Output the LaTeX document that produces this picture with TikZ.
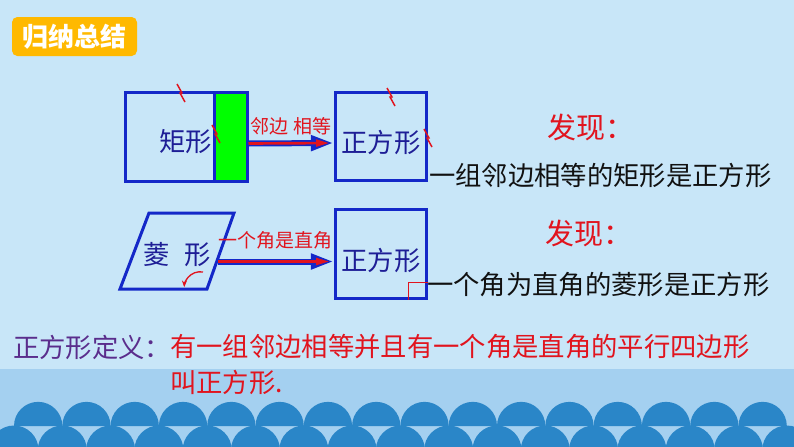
\documentclass[tikz,border=0pt]{standalone}
\usepackage{xcolor}
\usepackage{fontspec}
\setmainfont{Noto Sans CJK SC}
\usetikzlibrary{arrows.meta,positioning}

\definecolor{bgblue}{RGB}{200,230,248}
\definecolor{bandblue}{RGB}{164,208,240}
\definecolor{waveblue}{RGB}{42,134,200}
\definecolor{tagorange}{RGB}{255,185,0}
\definecolor{edgeblue}{RGB}{20,40,200}
\definecolor{inkblue}{RGB}{30,30,150}
\definecolor{markred}{RGB}{225,20,30}
\definecolor{defpurple}{RGB}{90,45,140}
\definecolor{inkblack}{RGB}{17,17,17}

\begin{document}
\begin{tikzpicture}[x=0.75pt, y=-0.75pt, every node/.style={inner sep=0pt},
  box/.style={draw=edgeblue, line width=2.25pt},
  big/.style={font=\fontsize{19.75}{22}\selectfont},
  huge/.style={font=\fontsize{21.75}{24}\selectfont, text=markred},
  small/.style={font=\fontsize{14.25}{16}\selectfont, text=markred},
  tick/.style={draw=markred, line width=1.1pt},
  fat/.style={draw=edgeblue, line width=4.5pt, -{Triangle[length=17pt,width=11pt]},
    postaction={draw=markred, line width=2pt, shorten >=3pt, -{Triangle[length=10pt,width=5pt]}}}]
  \useasboundingbox (0,0) rectangle (794,447);
  \clip (0,0) rectangle (794,447);

  % background and waves
  \fill[bgblue] (0,0) rectangle (794,447);
  \fill[bandblue] (0,369) rectangle (794,447);
  \foreach \i in {0,...,15}
    \fill[waveblue] ({14+48.3*\i},426) arc[start angle=180, end angle=360, radius=24.15];
  \foreach \i in {0,...,16}
    \fill[waveblue] ({14+48.3*\i},450) circle[radius=24.5];

  % title
  \node[fill=tagorange, rounded corners=4pt, minimum width=93.75pt, minimum height=29.25pt,
    text=white, font=\bfseries\fontsize{19.5}{22}\selectfont] (tag) at (74.5,36.5) {归纳总结};

  % rectangle -> square
  \node[box, minimum width=66.75pt, minimum height=66.75pt] (jx) at (169.5,136.5) {};
  \node[box, fill=green, minimum width=24.75pt, minimum height=66.75pt] (lb) at (230.5,136.5) {};
  \node[big, text=inkblue, anchor=east] (jxt) at (212,142) {矩形};
  \node[box, minimum width=68.25pt, minimum height=66pt] (zf1) at (380.5,136) {};
  \node[big, text=inkblue] (zf1t) at (381,142) {正方形};
  \draw[fat] ([yshift=-5.25pt]lb.east) -- node[small, above=4pt]{邻边\hspace{0.3em}相等} ([yshift=-5.25pt]zf1.west);
  \foreach \x/\y in {181/93, 216/134, 391/97, 428/138}
    \draw[tick] (\x,\y) ++(-4,-9) -- ++(5,9) -- ++(-2,0) -- ++(5,9);

  % rhombus -> square
  \draw[edgeblue, line width=2.25pt] (120,289) -- (149,213) -- (234,213) -- (207,289) -- cycle;
  \node[big, text=inkblue] (lxt) at (177,255) {菱\hspace{0.55em}形};
  \coordinate (lx) at (218,261.5);
  \draw[markred, line width=1pt, -{Stealth[length=5pt]}] (203,272) arc[start angle=-80, end angle=-178, radius=16];
  \node[box, minimum width=68.25pt, minimum height=66.75pt] (zf2) at (380.5,253.5) {};
  \node[big, text=inkblue] (zf2t) at (381,260) {正方形};
  \draw[markred, line width=1pt] ([xshift=-14.25pt]zf2.south east) |- ([yshift=12.75pt]zf2.south east);
  \draw[fat] (lx) -- node[small, above=6.75pt]{一个角是直角} ([yshift=-6pt]zf2.west);

  % findings
  \node[huge, anchor=west] (fx1) at (547,127) {发现：};
  \node[big, text=inkblack, anchor=west] (jl1) at (429,175) {一组邻边相等的矩形是正方形};
  \node[huge, anchor=west] (fx2) at (545,233) {发现：};
  \node[big, text=inkblack, anchor=west] (jl2) at (427,285) {一个角为直角的菱形是正方形};

  % definition
  \node[big, text=defpurple, anchor=west] (dy) at (13,347) {正方形定义：};
  \node[big, text=markred, anchor=west] (dy1) at (170,347) {有一组邻边相等并且有一个角是直角的平行四边形};
  \node[big, text=markred, anchor=west] (dy2) at (170,382) {叫正方形.};
\end{tikzpicture}
\end{document}
